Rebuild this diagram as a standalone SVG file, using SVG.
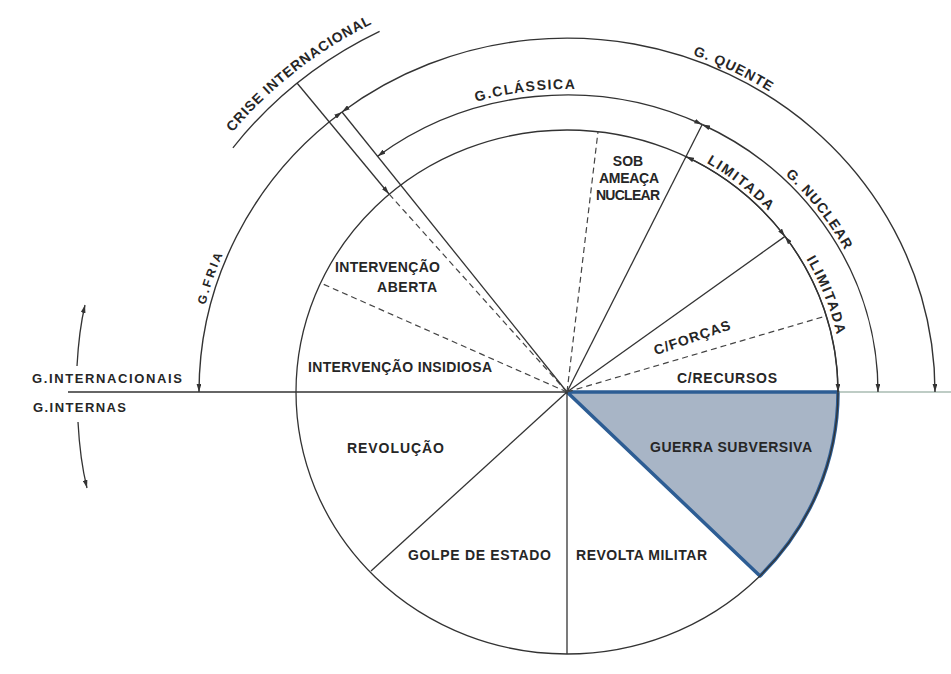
<svg xmlns="http://www.w3.org/2000/svg" width="951" height="674" viewBox="0 0 951 674">
<defs>
<style>
.ln{stroke:#333;stroke-width:1.3;fill:none}
.dash{stroke:#444;stroke-width:1.2;fill:none;stroke-dasharray:6 4}
.arc{stroke:#333;stroke-width:1.4;fill:none;marker-start:url(#ah);marker-end:url(#ah)}
.t{font-family:"Liberation Sans",Arial,sans-serif;font-weight:bold;font-size:14px;fill:#262626}
</style>
<marker id="ah" viewBox="0 0 10 6" refX="10" refY="3" markerWidth="8" markerHeight="5" orient="auto-start-reverse" markerUnits="userSpaceOnUse"><path d="M0,0 L10,3 L0,6 z" fill="#333"/></marker>
<path id="p-quente" d="M 631.6 39.4 A 372 358 0 0 1 820.7 130.2"/>
<path id="p-classica" d="M 448.3 111.1 A 317 303 0 0 1 605.6 91.3"/>
<path id="p-nuclear" d="M 760.9 154.8 A 315 301 0 0 1 859.1 279.2"/>
<path id="p-limitada" d="M 678.8 149 A 275 266 0 0 1 789.5 235.6"/>
<path id="p-ilimitada" d="M 804.8 256.5 A 276 267 0 0 1 837.5 338.8"/>
<path id="p-fria" d="M 199.7 329.8 A 373 358 0 0 1 234.7 229.5"/>
<path id="p-crise" d="M 214.8 155.1 A 430 413 0 0 1 399 11.8"/>
</defs>
<rect width="951" height="674" fill="#fff"/>

<g id="sector-guerra-subversiva">
<path d="M 567 392 L 838 392 A 271 262 0 0 1 760 575.9 Z" fill="#a8b5c6" stroke="#2d5d94" stroke-width="3.5" stroke-linejoin="round"/>
</g>

<g id="connectors">
<line class="ln" x1="68" y1="392" x2="567" y2="392"/>
<line x1="838" y1="392" x2="951" y2="392" stroke="#7f9a8c" stroke-width="1.1"/>
<ellipse class="ln" cx="567" cy="392" rx="271" ry="262" stroke-width="1.8"/>
<!-- radial solid -->
<line class="ln" x1="567" y1="392" x2="342" y2="112"/>
<line class="ln" x1="567" y1="392" x2="371" y2="571"/>
<line class="ln" x1="567" y1="392" x2="567" y2="654"/>
<line class="ln" x1="567" y1="392" x2="785" y2="236.4"/>
<line class="ln" x1="567" y1="392" x2="702.2" y2="124.5"/>
<!-- radial dashed -->
<line class="dash" x1="567" y1="392" x2="389" y2="194"/>
<line class="dash" x1="567" y1="392" x2="320.6" y2="283"/>
<line class="dash" x1="567" y1="392" x2="598" y2="131.7"/>
<line class="dash" x1="567" y1="392" x2="826" y2="316"/>
<!-- arcs -->
<path class="arc" d="M 342 112 A 368 354 0 0 0 199 392"/>
<path class="arc" d="M 342 112 A 368 354 0 0 1 935 392"/>
<path class="arc" d="M 377.6 156.3 A 311 297 0 0 1 702.2 124.5"/>
<path class="arc" d="M 702.2 124.5 A 311 297 0 0 1 878 392"/>
<path class="arc" d="M 686 156.6 A 271 262 0 0 1 785 236.4"/>
<path class="arc" d="M 785 236.4 A 271 262 0 0 1 838 392"/>
<!-- crise internacional -->
<path class="ln" d="M 232.9 147.8 A 420 403 0 0 1 379.6 31.3" stroke-width="1.6"/>
<line class="ln" x1="297" y1="83" x2="389" y2="194" marker-end="url(#ah)"/>
<!-- left arrows -->
<path class="ln" d="M 77 366 Q 79 330 85 305" marker-end="url(#ah)"/>
<path class="ln" d="M 78 422 Q 80 460 87 488" marker-end="url(#ah)"/>
</g>

<g id="label-g-quente"><text class="t" letter-spacing="1"><textPath href="#p-quente" startOffset="50%" text-anchor="middle">G. QUENTE</textPath></text></g>
<g id="label-g-classica"><text class="t" letter-spacing="1.5"><textPath href="#p-classica" startOffset="50%" text-anchor="middle">G.CLÁSSICA</textPath></text></g>
<g id="label-g-nuclear"><text class="t" letter-spacing="1"><textPath href="#p-nuclear" startOffset="50%" text-anchor="middle">G. NUCLEAR</textPath></text></g>
<g id="label-limitada"><text class="t" letter-spacing="1.8"><textPath href="#p-limitada" startOffset="50%" text-anchor="middle">LIMITADA</textPath></text></g>
<g id="label-ilimitada"><text class="t" letter-spacing="1.5"><textPath href="#p-ilimitada" startOffset="50%" text-anchor="middle">ILIMITADA</textPath></text></g>
<g id="label-g-fria"><text class="t" font-size="12" letter-spacing="2.5" style="font-size:12px"><textPath href="#p-fria" startOffset="50%" text-anchor="middle">G.FRIA</textPath></text></g>
<g id="label-crise"><text class="t" letter-spacing="0.85"><textPath href="#p-crise" startOffset="50%" text-anchor="middle">CRISE INTERNACIONAL</textPath></text></g>

<g id="node-sob-ameaca-nuclear">
<text class="t" x="628" y="166" text-anchor="middle">SOB</text>
<text class="t" x="629" y="183" text-anchor="middle" textLength="60" lengthAdjust="spacing">AMEAÇA</text>
<text class="t" x="628" y="200" text-anchor="middle" textLength="64" lengthAdjust="spacing">NUCLEAR</text>
</g>
<g id="node-intervencao-aberta">
<text class="t" x="335" y="272" textLength="105" lengthAdjust="spacing">INTERVENÇÃO</text>
<text class="t" x="377" y="292" textLength="60" lengthAdjust="spacing">ABERTA</text>
</g>
<g id="node-intervencao-insidiosa"><text class="t" x="308" y="372" textLength="184" lengthAdjust="spacing">INTERVENÇÃO INSIDIOSA</text></g>
<g id="node-c-forcas"><text class="t" x="694" y="342" text-anchor="middle" letter-spacing="1" transform="rotate(-19 694 342)">C/FORÇAS</text></g>
<g id="node-c-recursos"><text class="t" x="677" y="383" textLength="100" lengthAdjust="spacing">C/RECURSOS</text></g>
<g id="node-guerra-subversiva"><text class="t" x="650" y="452" textLength="162" lengthAdjust="spacing">GUERRA SUBVERSIVA</text></g>
<g id="node-revolucao"><text class="t" x="347" y="453" textLength="97" lengthAdjust="spacing">REVOLUÇÃO</text></g>
<g id="node-golpe-de-estado"><text class="t" x="408" y="560" textLength="143" lengthAdjust="spacing">GOLPE DE ESTADO</text></g>
<g id="node-revolta-militar"><text class="t" x="576" y="560" textLength="131" lengthAdjust="spacing">REVOLTA MILITAR</text></g>
<g id="node-g-internacionais"><text class="t" x="32" y="383" textLength="150" lengthAdjust="spacing" style="font-size:13px">G.INTERNACIONAIS</text></g>
<g id="node-g-internas"><text class="t" x="33" y="412" textLength="93" lengthAdjust="spacing" style="font-size:13px">G.INTERNAS</text></g>
</svg>
